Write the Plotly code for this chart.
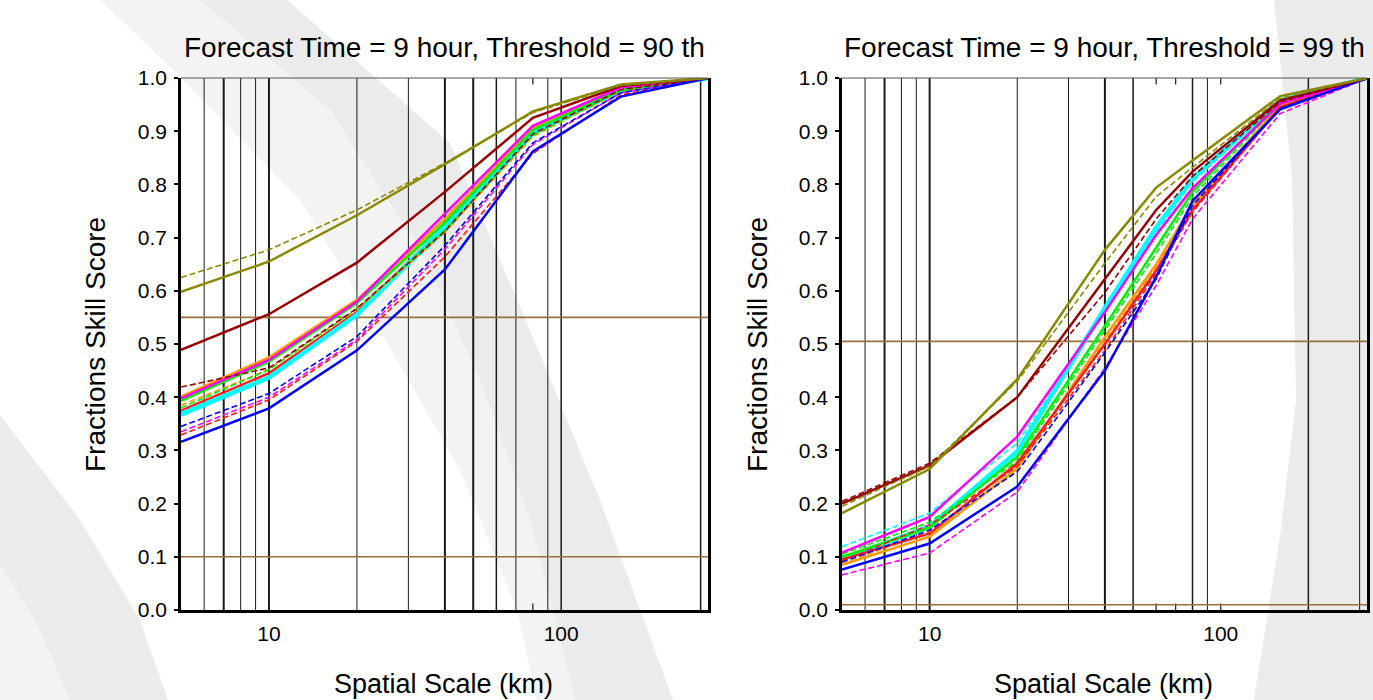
import math
import plotly.graph_objects as go

W, H = 1373, 700

# ---------------- data ----------------
# Left panel: threshold = 90th percentile
X_LEFT = [5, 10, 20, 40, 80, 160, 320]
L_OLIVE_SOLID = [0.598, 0.655, 0.742, 0.838, 0.937, 0.988, 1.0]
L_OLIVE_DASH = [0.625, 0.677, 0.752, 0.840, 0.935, 0.986, 1.0]
L_MAROON_SOLID = [0.489, 0.556, 0.653, 0.786, 0.925, 0.985, 1.0]
L_MAROON_DASH = [0.419, 0.455, 0.567, 0.712, 0.895, 0.978, 1.0]
L_ORANGE_SOLID = [0.401, 0.475, 0.583, 0.735, 0.905, 0.980, 1.0]
L_ORANGE_DASH = [0.385, 0.452, 0.565, 0.710, 0.890, 0.975, 1.0]
L_MAGENTA_SOLID = [0.398, 0.470, 0.580, 0.745, 0.910, 0.982, 1.0]
L_MAGENTA_DASH = [0.335, 0.400, 0.508, 0.678, 0.875, 0.972, 1.0]
L_GREEN_SOLID = [0.393, 0.467, 0.577, 0.728, 0.902, 0.979, 1.0]
L_GREEN_DASH = [0.380, 0.452, 0.566, 0.715, 0.892, 0.976, 1.0]
L_CYAN_SOLID = [0.367, 0.437, 0.555, 0.720, 0.898, 0.977, 1.0]
L_CYAN_DASH = [0.372, 0.440, 0.558, 0.710, 0.893, 0.975, 1.0]
L_RED_SOLID = [0.375, 0.445, 0.560, 0.722, 0.895, 0.977, 1.0]
L_RED_DASH = [0.329, 0.395, 0.505, 0.664, 0.858, 0.968, 1.0]
L_BLUE_SOLID = [0.316, 0.379, 0.488, 0.640, 0.862, 0.965, 1.0]
L_BLUE_DASH = [0.345, 0.407, 0.514, 0.685, 0.878, 0.972, 1.0]

# Right panel: threshold = 99th percentile
X_RIGHT = [5, 10, 20, 40, 60, 80, 160, 320]
R_OLIVE_SOLID = [0.182, 0.265, 0.434, 0.677, 0.794, 0.845, 0.966, 1.0]
R_OLIVE_DASH = [0.195, 0.270, 0.430, 0.652, 0.777, 0.832, 0.962, 1.0]
R_MAROON_SOLID = [0.200, 0.272, 0.400, 0.622, 0.752, 0.824, 0.958, 1.0]
R_MAROON_DASH = [0.204, 0.276, 0.400, 0.597, 0.735, 0.815, 0.955, 1.0]
R_CYAN_SOLID = [0.095, 0.157, 0.298, 0.568, 0.719, 0.811, 0.958, 1.0]
R_CYAN_DASH = [0.119, 0.182, 0.314, 0.560, 0.710, 0.805, 0.955, 1.0]
R_MAGENTA_SOLID = [0.108, 0.175, 0.326, 0.560, 0.705, 0.793, 0.952, 1.0]
R_MAGENTA_DASH = [0.066, 0.107, 0.222, 0.455, 0.610, 0.735, 0.933, 1.0]
R_GREEN_SOLID = [0.100, 0.155, 0.288, 0.534, 0.681, 0.786, 0.955, 1.0]
R_GREEN_DASH = [0.105, 0.165, 0.280, 0.525, 0.670, 0.777, 0.952, 1.0]
R_ORANGE_SOLID = [0.085, 0.138, 0.266, 0.513, 0.650, 0.762, 0.948, 1.0]
R_ORANGE_DASH = [0.087, 0.147, 0.272, 0.505, 0.645, 0.758, 0.947, 1.0]
R_RED_SOLID = [0.095, 0.144, 0.276, 0.500, 0.638, 0.752, 0.945, 1.0]
R_RED_DASH = [0.092, 0.160, 0.270, 0.488, 0.632, 0.748, 0.944, 1.0]
R_BLUE_SOLID = [0.076, 0.125, 0.232, 0.450, 0.626, 0.769, 0.941, 1.0]
R_BLUE_DASH = [0.090, 0.150, 0.260, 0.484, 0.622, 0.760, 0.943, 1.0]

Y_TICKS = [0.0, 0.1, 0.2, 0.3, 0.4, 0.5, 0.6, 0.7, 0.8, 0.9, 1.0]
X_TICKS = [10, 100]
TITLES = ["Forecast Time = 9 hour, Threshold = 90 th",
          "Forecast Time = 9 hour, Threshold = 99 th"]
REF_LEVELS_LEFT = [0.55, 0.1]
REF_LEVELS_RIGHT = [0.505, 0.01]

# vertical reference lines (full height) and short marks, per panel
VLINES_LEFT = [(6, 1.0), (7, 2.0), (8, 1.0), (9, 1.0), (10, 2.0), (20, 1.0), (30, 1.0),
               (40, 2.0), (50, 2.0), (60, 1.5), (70, 1.0), (90, 1.0), (100, 1.5), (300, 1.5)]
VMARKS_LEFT = [80]
VLINES_RIGHT = [(6, 1.0), (7, 2.0), (8, 1.0), (9, 1.0), (10, 2.0), (20, 1.0), (30, 1.0),
                (40, 2.0), (50, 1.5), (80, 1.5), (90, 1.0), (200, 1.5), (300, 1.0)]
VMARKS_RIGHT = [60, 70, 100]

COLORS = {
    "olive": "#8a8a00",
    "maroon": "#990000",
    "orange": "#ff9900",
    "magenta": "#ff00ff",
    "green": "#00ee00",
    "cyan": "#00ffff",
    "red": "#ff1a1a",
    "blue": "#0000ff",
}

LEFT_SERIES = [
    ("red", "solid", L_RED_SOLID),
    ("cyan", "solid", L_CYAN_SOLID), ("cyan", "dash", L_CYAN_DASH),
    ("orange", "solid", L_ORANGE_SOLID), ("orange", "dash", L_ORANGE_DASH),
    ("green", "solid", L_GREEN_SOLID), ("green", "dash", L_GREEN_DASH),
    ("red", "dash", L_RED_DASH),
    ("magenta", "solid", L_MAGENTA_SOLID), ("magenta", "dash", L_MAGENTA_DASH),
    ("blue", "solid", L_BLUE_SOLID), ("blue", "dash", L_BLUE_DASH),
    ("maroon", "solid", L_MAROON_SOLID), ("maroon", "dash", L_MAROON_DASH),
    ("olive", "solid", L_OLIVE_SOLID), ("olive", "dash", L_OLIVE_DASH),
]
RIGHT_SERIES = [
    ("cyan", "solid", R_CYAN_SOLID), ("cyan", "dash", R_CYAN_DASH),
    ("orange", "solid", R_ORANGE_SOLID), ("orange", "dash", R_ORANGE_DASH),
    ("green", "solid", R_GREEN_SOLID), ("green", "dash", R_GREEN_DASH),
    ("red", "solid", R_RED_SOLID), ("red", "dash", R_RED_DASH),
    ("magenta", "solid", R_MAGENTA_SOLID), ("magenta", "dash", R_MAGENTA_DASH),
    ("blue", "solid", R_BLUE_SOLID), ("blue", "dash", R_BLUE_DASH),
    ("maroon", "solid", R_MAROON_SOLID), ("maroon", "dash", R_MAROON_DASH),
    ("olive", "solid", R_OLIVE_SOLID), ("olive", "dash", R_OLIVE_DASH),
]

FONT = "Liberation Sans, Arial, Helvetica, sans-serif"


def px(x, y):
    """Pixel position -> paper coordinates (margins are zero)."""
    return x / W, 1 - y / H


def path_from(points):
    parts = []
    for i, (x, y) in enumerate(points):
        u, v = px(x, y)
        parts.append(("M" if i == 0 else "L") + f"{u:.5f},{v:.5f}")
    return " ".join(parts) + " Z"


fig = go.Figure()

# panel geometry (pixels)
LEFT_DOM = (181, 708)
RIGHT_DOM = (842, 1367)
Y_DOM = (78, 610)

X_RANGE = [math.log10(5), math.log10(318)]

for idx, (series, xs) in enumerate([(LEFT_SERIES, X_LEFT), (RIGHT_SERIES, X_RIGHT)]):
    xa = "x" if idx == 0 else "x2"
    ya = "y" if idx == 0 else "y2"
    for cname, style, vals in series:
        if style == "solid":
            width = 4.5 if cname == "cyan" else 2.5
            dash = "solid"
        else:
            width = 1.6
            dash = "6px,3px"
        fig.add_trace(go.Scatter(
            x=xs, y=vals, mode="lines", xaxis=xa, yaxis=ya,
            line=dict(color=COLORS[cname], width=width, dash=dash),
            showlegend=False, hoverinfo="skip",
        ))

shapes = []

# light grey background swooshes
BG = "#ebebeb"
BG2 = "#f3f3f3"
shapes.append(dict(type="path", xref="paper", yref="paper", layer="below", line=dict(width=0),
                   fillcolor=BG2,
                   path=path_from([(100, 0), (220, 0), (330, 110), (420, 250), (480, 380),
                                   (530, 520), (575, 700), (537, 700), (517, 610),
                                   (460, 470), (380, 330), (300, 200), (175, 72)])))
shapes.append(dict(type="path", xref="paper", yref="paper", layer="below", line=dict(width=0),
                   fillcolor=BG,
                   path=path_from([(200, 0), (287, 0), (450, 143), (530, 330), (600, 500),
                                   (673, 700), (575, 700), (530, 520), (480, 380),
                                   (420, 250), (330, 110)])))
shapes.append(dict(type="path", xref="paper", yref="paper", layer="below", line=dict(width=0),
                   fillcolor=BG,
                   path=path_from([(0, 415), (80, 520), (140, 620), (168, 700),
                                   (70, 700), (35, 620), (0, 565)])))
shapes.append(dict(type="path", xref="paper", yref="paper", layer="below", line=dict(width=0),
                   fillcolor=BG2,
                   path=path_from([(0, 565), (35, 620), (70, 700), (0, 700)])))
shapes.append(dict(type="path", xref="paper", yref="paper", layer="below", line=dict(width=0),
                   fillcolor=BG,
                   path=path_from([(1274, 0), (1292, 177), (1296, 400), (1281, 530),
                                   (1254, 700), (1373, 700), (1373, 0)])))

for idx, (vlines, vmarks, refs) in enumerate([(VLINES_LEFT, VMARKS_LEFT, REF_LEVELS_LEFT),
                                              (VLINES_RIGHT, VMARKS_RIGHT, REF_LEVELS_RIGHT)]):
    xr = "x" if idx == 0 else "x2"
    yr = "y" if idx == 0 else "y2"
    for xv, lw in vlines:
        shapes.append(dict(type="line", xref=xr, yref=yr + " domain", x0=xv, x1=xv, y0=0, y1=1,
                           line=dict(color="#1a1a1a", width=lw), layer="below"))
    for xv in vmarks:
        for (a, b) in [(0, 0.012), (0.988, 1)]:
            shapes.append(dict(type="line", xref=xr, yref=yr + " domain", x0=xv, x1=xv, y0=a, y1=b,
                               line=dict(color="#1a1a1a", width=1.2), layer="below"))
    for yv in refs:
        shapes.append(dict(type="line", xref=xr + " domain", yref=yr, x0=0, x1=1, y0=yv, y1=yv,
                           line=dict(color="#96703f", width=1.6), layer="below"))
    # thin top frame line
    shapes.append(dict(type="line", xref=xr + " domain", yref=yr + " domain", x0=0, x1=1, y0=1, y1=1,
                       line=dict(color="#555555", width=1.2), layer="above"))

annotations = []
centers = [(LEFT_DOM[0] + LEFT_DOM[1]) / 2, (RIGHT_DOM[0] + RIGHT_DOM[1]) / 2]
ylab_x = [95, 757]
for i in range(2):
    cx = centers[i]
    u, v = px(cx, 47)
    annotations.append(dict(text=TITLES[i], x=u, y=v, xref="paper", yref="paper",
                            showarrow=False, font=dict(family=FONT, size=28, color="black"),
                            xanchor="center", yanchor="middle"))
    u, v = px(cx - 1, 684)
    annotations.append(dict(text="Spatial Scale (km)", x=u, y=v, xref="paper", yref="paper",
                            showarrow=False, font=dict(family=FONT, size=27, color="black"),
                            xanchor="center", yanchor="middle"))
    u, v = px(ylab_x[i], 345)
    annotations.append(dict(text="Fractions Skill Score", x=u, y=v, xref="paper", yref="paper",
                            showarrow=False, textangle=-90,
                            font=dict(family=FONT, size=28, color="black"),
                            xanchor="center", yanchor="middle"))


def xaxis_cfg(dom):
    return dict(type="log", range=X_RANGE, domain=[dom[0] / W, dom[1] / W],
                tickvals=X_TICKS, ticktext=[str(t) for t in X_TICKS], ticks="",
                showgrid=False, zeroline=False, showline=True, linecolor="black", linewidth=2.5,
                mirror=False, tickfont=dict(family=FONT, size=21, color="black"),
                ticklabelstandoff=3, automargin=False)


def yaxis_cfg(anchor):
    return dict(range=[0, 1], domain=[1 - Y_DOM[1] / H, 1 - Y_DOM[0] / H],
                tickvals=Y_TICKS, ticktext=[f"{t:.1f}" for t in Y_TICKS],
                ticks="outside", ticklen=4, tickwidth=1.5, tickcolor="black",
                showgrid=False, zeroline=False, showline=True, linecolor="black",
                linewidth=2.5, mirror=True, anchor=anchor, automargin=False,
                tickfont=dict(family=FONT, size=21, color="black"), ticklabelstandoff=3)


fig.update_layout(
    width=W, height=H,
    autosize=False,
    margin=dict(l=0, r=0, t=0, b=0, pad=0, autoexpand=False),
    paper_bgcolor="white",
    plot_bgcolor="rgba(0,0,0,0)",
    xaxis=dict(**xaxis_cfg(LEFT_DOM), anchor="y"),
    yaxis=yaxis_cfg("x"),
    xaxis2=dict(**xaxis_cfg(RIGHT_DOM), anchor="y2"),
    yaxis2=yaxis_cfg("x2"),
    shapes=shapes,
    annotations=annotations,
    showlegend=False,
)

fig.write_html("out.html")
